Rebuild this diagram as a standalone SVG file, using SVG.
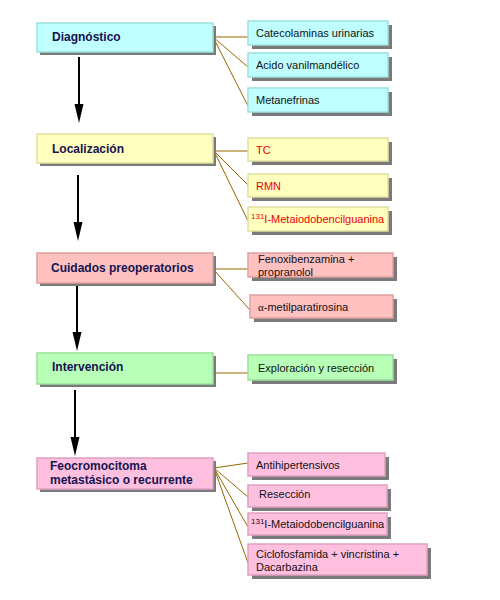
<svg xmlns="http://www.w3.org/2000/svg" width="500" height="600" viewBox="0 0 500 600">
<defs>
<style>
.sh{fill:#7a7a7a}
.main{font-family:"Liberation Sans",Arial,sans-serif;font-size:12px;font-weight:bold;fill:#141450}
.sub{font-family:"Liberation Sans",Arial,sans-serif;font-size:11px;fill:#111}
.red{fill:#ee0000}
.c{fill:#c0ffff;stroke:#9ee0e0;stroke-width:1.5}
.y{fill:#ffffc0;stroke:#e0e0a0;stroke-width:1.5}
.p{fill:#ffc0c0;stroke:#e0a0a0;stroke-width:1.5}
.g{fill:#b8ffb8;stroke:#98e098;stroke-width:1.5}
.k{fill:#ffc0e0;stroke:#e0a0c0;stroke-width:1.5}
.ln{stroke:#996600;stroke-width:1;fill:none}
.ar{stroke:#000;stroke-width:2;fill:none}
.hd{fill:#000}
</style>
</defs>
<rect width="500" height="600" fill="#fff"/>
<g id="connectors">
<path class="ln" d="M213,37 L248,37 M213,37 L248,67 M213,37 L248,106"/>
<path class="ln" d="M214,151 L248,151 M214,151 L248,185 M214,151 L248,221"/>
<path class="ln" d="M213,269 L248,269 M213,269 L250,310"/>
<path class="ln" d="M213,373 L248,373"/>
<path class="ln" d="M214,468 L248,463 M214,468 L248,497 M214,468 L248,527 M214,468 L248,563"/>
<line class="ar" x1="79" y1="57" x2="79" y2="106"/>
<polygon class="hd" points="74.5,104 83.5,104 79,123"/>
<line class="ar" x1="78" y1="175" x2="78" y2="224"/>
<polygon class="hd" points="73.5,222 82.5,222 78,241"/>
<line class="ar" x1="77" y1="285" x2="77" y2="334"/>
<polygon class="hd" points="72.5,332 81.5,332 77,351"/>
<line class="ar" x1="75" y1="390" x2="75" y2="439"/>
<polygon class="hd" points="70.5,437 79.5,437 75,456"/>
</g>
<g id="diagnostico">
<rect class="sh" x="40" y="26" width="176" height="29"/>
<rect class="c" x="37" y="23" width="176" height="29"/>
<text class="main" x="52" y="41">Diagnóstico</text>
</g>
<g id="catecolaminas">
<rect class="sh" x="252" y="25" width="140" height="24"/>
<rect class="c" x="248" y="21" width="140" height="24"/>
<text class="sub" x="256" y="37">Catecolaminas urinarias</text>
</g>
<g id="acido">
<rect class="sh" x="252" y="57" width="140" height="24"/>
<rect class="c" x="248" y="53" width="140" height="24"/>
<text class="sub" x="256" y="69">Acido vanilmandélico</text>
</g>
<g id="metanefrinas">
<rect class="sh" x="252" y="92" width="140" height="24"/>
<rect class="c" x="248" y="88" width="140" height="24"/>
<text class="sub" x="256" y="104">Metanefrinas</text>
</g>
<g id="localizacion">
<rect class="sh" x="40" y="137" width="176" height="29"/>
<rect class="y" x="37" y="134" width="176" height="29"/>
<text class="main" x="52" y="153">Localización</text>
</g>
<g id="tc">
<rect class="sh" x="252" y="142" width="140" height="23"/>
<rect class="y" x="248" y="138" width="140" height="23"/>
<text class="sub red" x="256" y="154">TC</text>
</g>
<g id="rmn">
<rect class="sh" x="252" y="178" width="140" height="23"/>
<rect class="y" x="248" y="174" width="140" height="23"/>
<text class="sub red" x="256" y="190">RMN</text>
</g>
<g id="mibg1">
<rect class="sh" x="252" y="211" width="140" height="24"/>
<rect class="y" x="248" y="207" width="140" height="24"/>
<text class="sub red" x="251" y="223"><tspan font-size="8" dy="-4">131</tspan><tspan dy="4">I-Metaiodobencilguanina</tspan></text>
</g>
<g id="cuidados">
<rect class="sh" x="40" y="256" width="176" height="30"/>
<rect class="p" x="37" y="253" width="176" height="30"/>
<text class="main" x="51" y="272">Cuidados preoperatorios</text>
</g>
<g id="fenoxibenzamina">
<rect class="sh" x="252" y="257" width="145" height="24"/>
<rect class="p" x="248" y="253" width="145" height="24"/>
<text class="sub" x="258" y="263">Fenoxibenzamina +</text>
<text class="sub" x="258" y="276">propranolol</text>
</g>
<g id="metilparatirosina">
<rect class="sh" x="254" y="299" width="143" height="23"/>
<rect class="p" x="250" y="295" width="143" height="23"/>
<text class="sub" x="258" y="311"><tspan font-family="'Liberation Serif',serif">α</tspan>-metilparatirosina</text>
</g>
<g id="intervencion">
<rect class="sh" x="40" y="356" width="176" height="31"/>
<rect class="g" x="37" y="353" width="176" height="31"/>
<text class="main" x="52" y="371">Intervención</text>
</g>
<g id="exploracion">
<rect class="sh" x="252" y="359" width="145" height="25"/>
<rect class="g" x="248" y="355" width="145" height="25"/>
<text class="sub" x="258" y="372">Exploración y resección</text>
</g>
<g id="feocromocitoma">
<rect class="sh" x="40" y="461" width="176" height="31"/>
<rect class="k" x="37" y="458" width="176" height="31"/>
<text class="main" x="50" y="470">Feocromocitoma</text>
<text class="main" x="50" y="484">metastásico o recurrente</text>
</g>
<g id="antihipertensivos">
<rect class="sh" x="252" y="457" width="137" height="23"/>
<rect class="k" x="248" y="453" width="137" height="23"/>
<text class="sub" x="256" y="469">Antihipertensivos</text>
</g>
<g id="reseccion">
<rect class="sh" x="252" y="489" width="139" height="22"/>
<rect class="k" x="248" y="485" width="139" height="22"/>
<text class="sub" x="259" y="498">Resección</text>
</g>
<g id="mibg2">
<rect class="sh" x="252" y="517" width="139" height="22"/>
<rect class="k" x="248" y="513" width="139" height="22"/>
<text class="sub" x="251" y="528"><tspan font-size="8" dy="-4">131</tspan><tspan dy="4">I-Metaiodobencilguanina</tspan></text>
</g>
<g id="ciclofosfamida">
<rect class="sh" x="252" y="548" width="179" height="31"/>
<rect class="k" x="248" y="544" width="179" height="31"/>
<text class="sub" x="256" y="558">Ciclofosfamida + vincristina +</text>
<text class="sub" x="256" y="571">Dacarbazina</text>
</g>
</svg>
